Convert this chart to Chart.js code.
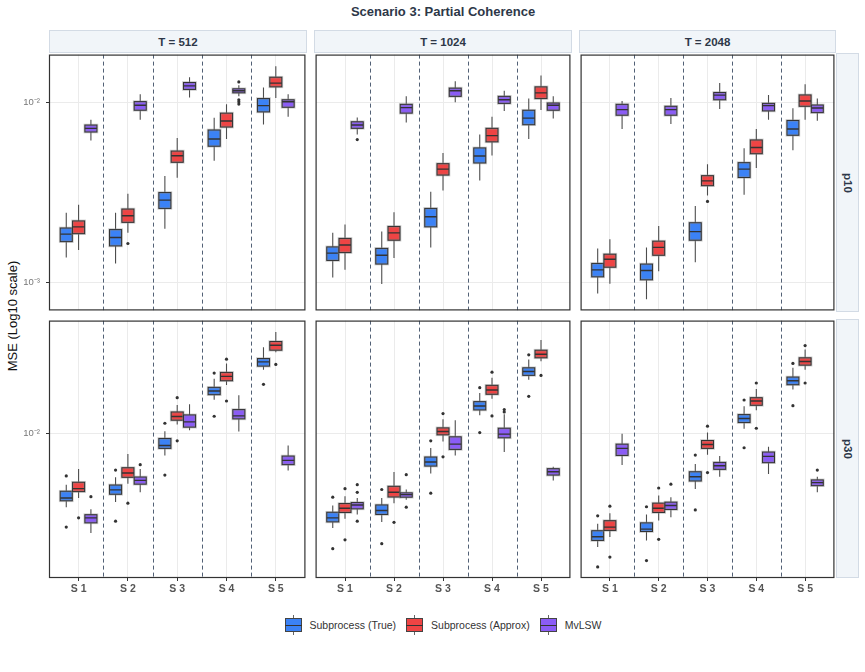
<!DOCTYPE html>
<html>
<head>
<meta charset="utf-8">
<script src="https://cdn.jsdelivr.net/npm/chart.js@4.4.0/dist/chart.umd.min.js"></script>
<style>
  html,body{margin:0;padding:0;background:#fff;}
  body{width:865px;height:672px;position:relative;overflow:hidden;font-family:'Liberation Sans',Arial,Helvetica,sans-serif;}
  canvas{position:absolute;}
  #title{position:absolute;left:49px;width:788px;top:4px;text-align:center;font-weight:bold;font-size:13px;color:#2D3748;}
  .strip{position:absolute;box-sizing:border-box;background:#F1F5F9;border:1px solid #D3DBE5;color:#2D3748;font-weight:bold;font-size:11.5px;display:flex;align-items:center;justify-content:center;}
  .vstrip span{writing-mode:vertical-rl;}
  #ylab{position:absolute;left:12px;top:316px;transform:translate(-50%,-50%) rotate(-90deg);white-space:nowrap;font-size:13px;color:#111;}
  #legend{position:absolute;left:49px;width:788px;top:615px;display:flex;justify-content:center;align-items:center;font-size:10.5px;color:#333;}
  .item{display:flex;align-items:center;margin:0 5px;}
  .glyph{position:relative;width:17px;height:20px;margin-right:8px;}
  .glyph .bx{position:absolute;left:0;top:3px;width:17px;height:14px;box-sizing:border-box;border:1px solid #444;}
  .glyph .md{position:absolute;left:0;top:9.5px;width:17px;height:1.3px;background:#333;}
  .glyph .wk{position:absolute;left:8px;width:1px;background:#666;}
</style>
</head>
<body>
<div id="title">Scenario 3: Partial Coherence</div>
<div id="ylab">MSE (Log10 scale)</div>
<div id="legend"></div>
<script>
// ---------- labels ----------
const categories = ['S 1','S 2','S 3','S 4','S 5'];
const methods = ['Subprocess (True)','Subprocess (Approx)','MvLSW'];
const lengths = ['T = 512','T = 1024','T = 2048'];
const dims = ['p10','p30'];
const yTickValues = [0.001, 0.01];
const yTickLabels = ['10\u207B\u00B3', '10\u207B\u00B2'];
const yRange_p10 = [6.96e-4, 1.844e-2];
const yRange_p30 = [2.19e-3, 3.276e-2];

// ---------- box stats: per scenario [lower whisker, Q1, median, Q3, upper whisker] ----------
const p10_T512_true   = [[1.37e-3,1.68e-3,1.85e-3,2.00e-3,2.43e-3],[1.27e-3,1.59e-3,1.77e-3,1.96e-3,2.43e-3],[1.98e-3,2.57e-3,2.86e-3,3.15e-3,3.89e-3],[4.74e-3,5.70e-3,6.26e-3,7.02e-3,8.20e-3],[7.54e-3,8.85e-3,9.59e-3,1.05e-2,1.21e-2]];
const p10_T512_approx = [[1.51e-3,1.86e-3,2.03e-3,2.19e-3,2.69e-3],[1.88e-3,2.15e-3,2.34e-3,2.55e-3,3.10e-3],[3.81e-3,4.64e-3,5.05e-3,5.36e-3,6.34e-3],[6.26e-3,7.29e-3,7.87e-3,8.71e-3,9.75e-3],[1.056e-2,1.22e-2,1.28e-2,1.38e-2,1.59e-2]];
const p10_T512_mvlsw  = [[6.13e-3,6.84e-3,7.17e-3,7.48e-3,8.0e-3],[8.0e-3,9.04e-3,9.63e-3,1.01e-2,1.11e-2],[1.065e-2,1.18e-2,1.235e-2,1.29e-2,1.38e-2],[1.08e-2,1.13e-2,1.16e-2,1.19e-2,1.245e-2],[8.31e-3,9.39e-3,1.008e-2,1.034e-2,1.11e-2]];

const p10_T1024_true   = [[1.06e-3,1.32e-3,1.45e-3,1.57e-3,1.88e-3],[9.75e-4,1.26e-3,1.41e-3,1.54e-3,1.91e-3],[1.56e-3,2.03e-3,2.31e-3,2.57e-3,3.18e-3],[3.68e-3,4.60e-3,5.03e-3,5.58e-3,6.62e-3],[6.26e-3,7.51e-3,8.17e-3,9.04e-3,1.05e-2]];
const p10_T1024_approx = [[1.17e-3,1.46e-3,1.61e-3,1.75e-3,2.09e-3],[1.36e-3,1.71e-3,1.88e-3,2.04e-3,2.45e-3],[3.23e-3,3.94e-3,4.25e-3,4.56e-3,5.22e-3],[5.07e-3,6.03e-3,6.53e-3,7.17e-3,8.31e-3],[9.08e-3,1.05e-2,1.13e-2,1.22e-2,1.41e-2]];
const p10_T1024_mvlsw  = [[6.62e-3,7.17e-3,7.48e-3,7.80e-3,8.24e-3],[7.73e-3,8.71e-3,9.35e-3,9.75e-3,1.08e-2],[1.00e-2,1.08e-2,1.16e-2,1.20e-2,1.31e-2],[8.96e-3,9.87e-3,1.034e-2,1.08e-2,1.16e-2],[8.13e-3,9.04e-3,9.63e-3,9.92e-3,1.08e-2]];

const p10_T2048_true   = [[8.63e-4,1.07e-3,1.17e-3,1.27e-3,1.54e-3],[8.03e-4,1.03e-3,1.16e-3,1.26e-3,1.56e-3],[1.29e-3,1.71e-3,1.91e-3,2.14e-3,2.65e-3],[3.06e-3,3.82e-3,4.25e-3,4.62e-3,5.56e-3],[5.41e-3,6.56e-3,7.11e-3,7.93e-3,9.27e-3]];
const p10_T2048_approx = [[9.79e-4,1.21e-3,1.34e-3,1.43e-3,1.73e-3],[1.15e-3,1.41e-3,1.56e-3,1.69e-3,2.05e-3],[3.03e-3,3.44e-3,3.66e-3,3.91e-3,4.53e-3],[4.32e-3,5.18e-3,5.61e-3,6.18e-3,7.11e-3],[8.0e-3,9.51e-3,1.017e-2,1.10e-2,1.26e-2]];
const p10_T2048_mvlsw  = [[7.11e-3,8.48e-3,9.11e-3,9.75e-3,1.017e-2],[7.57e-3,8.48e-3,9.11e-3,9.51e-3,1.056e-2],[9.19e-3,1.034e-2,1.097e-2,1.135e-2,1.28e-2],[8.0e-3,8.96e-3,9.59e-3,9.87e-3,1.10e-2],[7.90e-3,8.77e-3,9.31e-3,9.67e-3,1.05e-2]];

const p30_T512_true   = [[4.61e-3,4.93e-3,5.08e-3,5.45e-3,5.84e-3],[4.87e-3,5.28e-3,5.53e-3,5.82e-3,6.31e-3],[7.94e-3,8.55e-3,8.82e-3,9.49e-3,1.025e-2],[1.427e-2,1.504e-2,1.563e-2,1.624e-2,1.778e-2],[1.954e-2,2.03e-2,2.124e-2,2.199e-2,2.477e-2]];
const p30_T512_approx = [[5.08e-3,5.43e-3,5.60e-3,5.99e-3,6.88e-3],[5.89e-3,6.31e-3,6.60e-3,6.98e-3,8.06e-3],[1.099e-2,1.15e-2,1.195e-2,1.254e-2,1.35e-2],[1.664e-2,1.741e-2,1.822e-2,1.90e-2,2.088e-2],[2.35e-2,2.40e-2,2.529e-2,2.63e-2,2.909e-2]];
const p30_T512_mvlsw  = [[3.51e-3,3.91e-3,4.12e-3,4.26e-3,4.51e-3],[5.39e-3,5.87e-3,6.11e-3,6.33e-3,6.88e-3],[1.035e-2,1.069e-2,1.13e-2,1.216e-2,1.36e-2],[1.021e-2,1.166e-2,1.203e-2,1.286e-2,1.494e-2],[6.77e-3,7.21e-3,7.54e-3,7.89e-3,8.82e-3]];

const p30_T1024_true   = [[3.70e-3,3.95e-3,4.12e-3,4.37e-3,4.69e-3],[3.95e-3,4.27e-3,4.45e-3,4.72e-3,5.08e-3],[6.56e-3,7.10e-3,7.41e-3,7.81e-3,8.58e-3],[1.211e-2,1.281e-2,1.336e-2,1.398e-2,1.53e-2],[1.76e-2,1.842e-2,1.92e-2,1.995e-2,2.177e-2]];
const p30_T1024_approx = [[4.08e-3,4.36e-3,4.56e-3,4.79e-3,5.17e-3],[4.81e-3,5.13e-3,5.39e-3,5.74e-3,6.67e-3],[9.20e-3,9.86e-3,1.021e-2,1.061e-2,1.162e-2],[1.442e-2,1.51e-2,1.58e-2,1.659e-2,1.797e-2],[2.139e-2,2.216e-2,2.30e-2,2.40e-2,2.675e-2]];
const p30_T1024_mvlsw  = [[4.27e-3,4.53e-3,4.72e-3,4.84e-3,5.08e-3],[4.98e-3,5.12e-3,5.26e-3,5.36e-3,5.55e-3],[7.94e-3,8.46e-3,8.94e-3,9.66e-3,1.15e-2],[8.23e-3,9.56e-3,9.93e-3,1.057e-2,1.224e-2],[6.11e-3,6.46e-3,6.69e-3,6.91e-3,7.06e-3]];

const p30_T2048_true   = [[3.03e-3,3.25e-3,3.38e-3,3.60e-3,3.87e-3],[3.25e-3,3.57e-3,3.66e-3,3.91e-3,4.27e-3],[5.58e-3,6.07e-3,6.35e-3,6.69e-3,7.26e-3],[1.05e-2,1.122e-2,1.17e-2,1.22e-2,1.331e-2],[1.59e-2,1.67e-2,1.741e-2,1.81e-2,1.995e-2]];
const p30_T2048_approx = [[3.37e-3,3.61e-3,3.74e-3,4.00e-3,4.33e-3],[4.01e-3,4.36e-3,4.56e-3,4.81e-3,5.21e-3],[8.00e-3,8.55e-3,8.91e-3,9.29e-3,1.01e-2],[1.276e-2,1.345e-2,1.407e-2,1.457e-2,1.596e-2],[1.954e-2,2.051e-2,2.132e-2,2.216e-2,2.417e-2]];
const p30_T2048_mvlsw  = [[7.18e-3,7.94e-3,8.55e-3,8.94e-3,9.97e-3],[4.15e-3,4.50e-3,4.69e-3,4.86e-3,5.12e-3],[6.35e-3,6.86e-3,7.13e-3,7.38e-3,7.89e-3],[6.53e-3,7.36e-3,7.86e-3,8.23e-3,8.70e-3],[5.39e-3,5.78e-3,5.97e-3,6.14e-3,6.35e-3]];

// ---------- outliers: [scenario number, MSE] ----------
const out_p10_T512_true = [];
const out_p10_T512_approx = [[2,1.64e-3]];
const out_p10_T512_mvlsw = [[4,1.30e-2],[4,1.034e-2],[4,1.008e-2],[4,9.79e-3]];
const out_p10_T1024_true = [];
const out_p10_T1024_approx = [];
const out_p10_T1024_mvlsw = [[1,6.21e-3]];
const out_p10_T2048_true = [];
const out_p10_T2048_approx = [[3,2.81e-3]];
const out_p10_T2048_mvlsw = [];
const out_p30_T512_true = [[1,6.40e-3],[1,3.74e-3],[2,6.81e-3],[2,3.98e-3],[3,1.114e-2],[3,6.46e-3],[4,1.887e-2],[4,1.199e-2],[5,1.676e-2]];
const out_p30_T512_approx = [[1,4.12e-3],[2,4.81e-3],[3,1.457e-2],[3,9.26e-3],[4,2.185e-2],[4,1.407e-2],[5,2.066e-2]];
const out_p30_T512_mvlsw = [[1,5.15e-3],[2,7.21e-3]];
const out_p30_T1024_true = [[1,5.12e-3],[1,2.98e-3],[2,5.55e-3],[2,3.14e-3],[3,9.26e-3],[3,5.34e-3],[4,1.618e-2],[4,1.01e-2],[5,2.286e-2],[5,1.478e-2]];
const out_p30_T1024_approx = [[1,5.60e-3],[1,3.27e-3],[2,3.93e-3],[3,1.233e-2],[3,7.83e-3],[4,1.906e-2],[4,1.203e-2],[5,1.842e-2]];
const out_p30_T1024_mvlsw = [[1,5.84e-3],[1,5.39e-3],[1,3.98e-3],[2,6.49e-3],[2,4.61e-3],[4,1.286e-2],[4,1.254e-2]];
const out_p30_T2048_true = [[1,4.21e-3],[1,2.46e-3],[2,4.63e-3],[2,2.63e-3],[3,7.97e-3],[3,4.48e-3],[4,1.422e-2],[4,8.61e-3],[5,2.088e-2],[5,1.34e-2]];
const out_p30_T2048_approx = [[1,4.66e-3],[1,2.73e-3],[2,5.64e-3],[2,3.29e-3],[3,1.08e-2],[3,6.63e-3],[4,1.70e-2],[4,1.057e-2],[5,2.52e-2],[5,1.70e-2]];
const out_p30_T2048_mvlsw = [[2,5.87e-3],[5,6.81e-3]];

// ---------- styling / layout ----------
const COLORS = ['#3B82F6', '#EF4444', '#8B5CF6'];
const DODGE = [-0.25, 0, 0.25];
const BOX_W = 0.245;
const COLS = [[49, 307], [314, 572], [579, 836]];
const ROWS = [[53, 312], [319, 578]];
const FONT = "'Liberation Sans', Arial, Helvetica, sans-serif";

const panels = [
  {r:0,c:0,stats:[p10_T512_true,p10_T512_approx,p10_T512_mvlsw],out:[out_p10_T512_true,out_p10_T512_approx,out_p10_T512_mvlsw],range:yRange_p10},
  {r:0,c:1,stats:[p10_T1024_true,p10_T1024_approx,p10_T1024_mvlsw],out:[out_p10_T1024_true,out_p10_T1024_approx,out_p10_T1024_mvlsw],range:yRange_p10},
  {r:0,c:2,stats:[p10_T2048_true,p10_T2048_approx,p10_T2048_mvlsw],out:[out_p10_T2048_true,out_p10_T2048_approx,out_p10_T2048_mvlsw],range:yRange_p10},
  {r:1,c:0,stats:[p30_T512_true,p30_T512_approx,p30_T512_mvlsw],out:[out_p30_T512_true,out_p30_T512_approx,out_p30_T512_mvlsw],range:yRange_p30},
  {r:1,c:1,stats:[p30_T1024_true,p30_T1024_approx,p30_T1024_mvlsw],out:[out_p30_T1024_true,out_p30_T1024_approx,out_p30_T1024_mvlsw],range:yRange_p30},
  {r:1,c:2,stats:[p30_T2048_true,p30_T2048_approx,p30_T2048_mvlsw],out:[out_p30_T2048_true,out_p30_T2048_approx,out_p30_T2048_mvlsw],range:yRange_p30}
];

// strips
lengths.forEach((t, c) => {
  const d = document.createElement('div');
  d.className = 'strip';
  d.style.left = COLS[c][0] + 'px';
  d.style.width = (COLS[c][1] - COLS[c][0]) + 'px';
  d.style.top = '30px'; d.style.height = '23px';
  d.textContent = t;
  document.body.appendChild(d);
});
dims.forEach((p, r) => {
  const d = document.createElement('div');
  d.className = 'strip vstrip';
  d.style.left = '836px'; d.style.width = '23px';
  d.style.top = ROWS[r][0] + 'px';
  d.style.height = (ROWS[r][1] - ROWS[r][0]) + 'px';
  const s = document.createElement('span'); s.textContent = p; d.appendChild(s);
  document.body.appendChild(d);
});

// legend
const leg = document.getElementById('legend');
methods.forEach((m, k) => {
  const it = document.createElement('div'); it.className = 'item';
  it.innerHTML = '<div class="glyph"><div class="wk" style="top:0;height:3px"></div><div class="bx" style="background:' + COLORS[k] + '"></div><div class="md"></div><div class="wk" style="top:17px;height:3px"></div></div><span>' + m + '</span>';
  leg.appendChild(it);
});

function makeBoxPlugin(panel) {
  return {
    id: 'boxes',
    beforeDatasetsDraw(chart) {
      const {ctx, chartArea: a, scales: {x, y}} = chart;
      ctx.save();
      ctx.beginPath(); ctx.rect(a.left, a.top, a.right - a.left, a.bottom - a.top); ctx.clip();
      // scenario separators
      ctx.setLineDash([4, 3]);
      ctx.strokeStyle = '#3E4F66';
      ctx.lineWidth = 0.9;
      for (let i = 1; i < categories.length; i++) {
        const px = Math.round(x.getPixelForValue(i + 0.5)) + 0.5;
        ctx.beginPath(); ctx.moveTo(px, a.top); ctx.lineTo(px, a.bottom); ctx.stroke();
      }
      ctx.setLineDash([]);
      const hw = (x.getPixelForValue(BOX_W) - x.getPixelForValue(0)) / 2;
      panel.stats.forEach((arr, k) => {
        arr.forEach((st, i) => {
          const cx = x.getPixelForValue(i + 1 + DODGE[k]);
          const [lo, q1, md, q3, hi] = st.map(v => y.getPixelForValue(v));
          ctx.strokeStyle = '#4D4D4D'; ctx.lineWidth = 1.1;
          ctx.beginPath(); ctx.moveTo(cx, hi); ctx.lineTo(cx, q3); ctx.moveTo(cx, q1); ctx.lineTo(cx, lo); ctx.stroke();
          ctx.fillStyle = COLORS[k];
          ctx.fillRect(cx - hw, q3, 2 * hw, q1 - q3);
          ctx.strokeStyle = 'rgba(140,140,140,0.45)'; ctx.lineWidth = 2.6;
          ctx.strokeRect(cx - hw, q3, 2 * hw, q1 - q3);
          ctx.strokeStyle = '#333'; ctx.lineWidth = 1;
          ctx.strokeRect(cx - hw, q3, 2 * hw, q1 - q3);
          ctx.lineWidth = 1.4;
          ctx.beginPath(); ctx.moveTo(cx - hw, md); ctx.lineTo(cx + hw, md); ctx.stroke();
        });
      });
      ctx.restore();
    },
    afterDraw(chart) {
      const {ctx, chartArea: a} = chart;
      ctx.save();
      ctx.strokeStyle = '#333'; ctx.lineWidth = 1.2;
      ctx.strokeRect(a.left + 0.5, a.top + 0.5, a.right - a.left - 1, a.bottom - a.top - 1);
      ctx.restore();
    }
  };
}

function noPad(s) { s.paddingTop = 0; s.paddingBottom = 0; s.paddingLeft = 0; s.paddingRight = 0; }

panels.forEach(panel => {
  const isLeft = panel.c === 0, isBottom = panel.r === 1;
  const plotL = COLS[panel.c][0], plotR = COLS[panel.c][1];
  const plotT = ROWS[panel.r][0], plotB = ROWS[panel.r][1];
  const left = isLeft ? 0 : plotL;
  const w = plotR - left;
  const h = (plotB - plotT) + (isBottom ? 30 : 0);
  const cv = document.createElement('canvas');
  cv.width = w; cv.height = h;
  cv.style.left = left + 'px'; cv.style.top = plotT + 'px';
  cv.style.width = w + 'px'; cv.style.height = h + 'px';
  document.body.appendChild(cv);
  const [ymin, ymax] = panel.range;
  new Chart(cv.getContext('2d'), {
    type: 'scatter',
    data: {
      datasets: methods.map((m, k) => ({
        label: m,
        data: panel.out[k].map(([s, v]) => ({x: s + DODGE[k], y: v})),
        pointRadius: 1.6, pointHoverRadius: 1.6,
        pointBackgroundColor: '#333', pointBorderWidth: 0, showLine: false
      }))
    },
    options: {
      responsive: false, animation: false, devicePixelRatio: 1,
      layout: {padding: 0},
      events: [],
      plugins: {legend: {display: false}, tooltip: {enabled: false}, title: {display: false}},
      scales: {
        x: {
          type: 'linear', min: 0.4, max: 5.6, bounds: 'data',
          afterBuildTicks: s => { s.ticks = categories.map((c, i) => ({value: i + 1})); },
          afterFit: s => { s.height = isBottom ? 30 : 0; noPad(s); },
          ticks: {display: isBottom, autoSkip: false, maxRotation: 0, padding: 2,
                  font: {family: FONT, size: 10.5, weight: 'bold'}, color: '#555',
                  callback: v => categories[Math.round(v) - 1]},
          grid: {color: '#EBEBEB', lineWidth: 1, drawTicks: isBottom, tickLength: 3, tickColor: '#333', tickWidth: 1},
          border: {display: false}
        },
        y: {
          type: 'logarithmic', min: ymin, max: ymax, bounds: 'data',
          afterBuildTicks: s => { s.ticks = yTickValues.filter(v => v >= ymin && v <= ymax).map(v => ({value: v})); },
          afterFit: s => { s.width = isLeft ? (plotL - left) : 0; noPad(s); },
          ticks: {display: isLeft, autoSkip: false, padding: 6,
                  font: {family: FONT, size: 9.5}, color: '#777',
                  callback: v => yTickLabels[yTickValues.indexOf(v)] || ''},
          grid: {color: '#EBEBEB', lineWidth: 1, drawTicks: isLeft, tickLength: 3, tickColor: '#333', tickWidth: 1},
          border: {display: false}
        }
      }
    },
    plugins: [makeBoxPlugin(panel)]
  });
});
</script>
</body>
</html>
